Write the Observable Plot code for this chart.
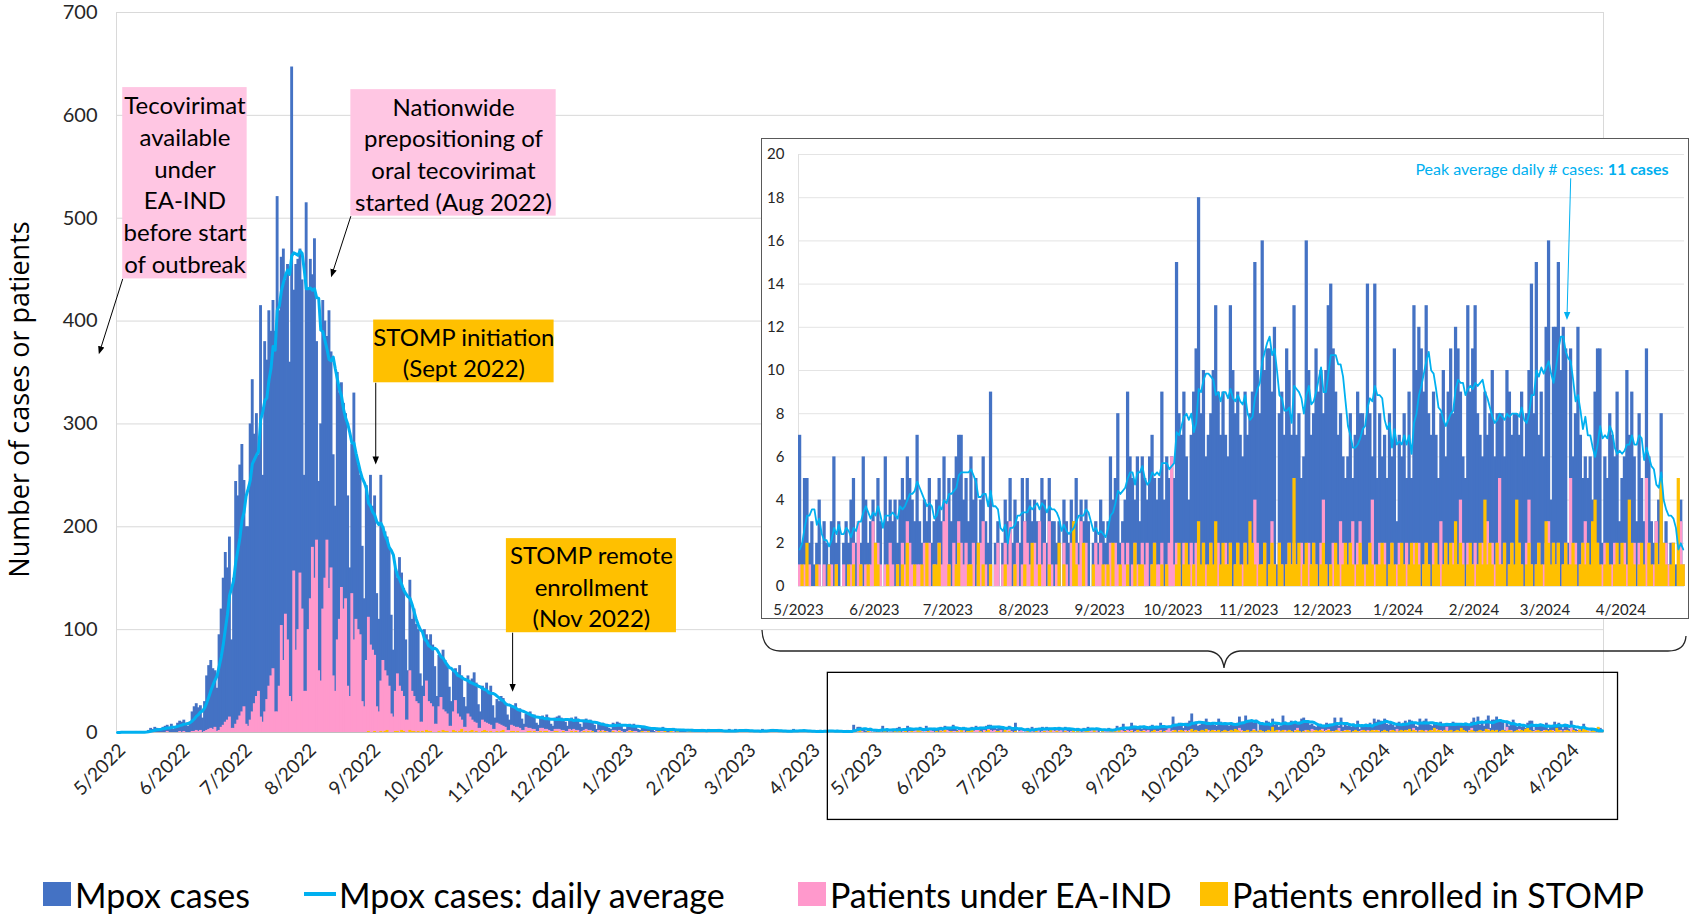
<!DOCTYPE html>
<html><head><meta charset="utf-8">
<script src="https://cdn.jsdelivr.net/npm/d3@7"></script>
<script src="https://cdn.jsdelivr.net/npm/@observablehq/plot@0.6"></script>
<style>
body{margin:0;background:#fff;font-family:Lato,sans-serif;}
#wrap{position:relative;width:1690px;height:914px;overflow:hidden;background:#fff;}
#main{position:absolute;left:0;top:0;}
#brace{position:absolute;left:0;top:0;pointer-events:none;}
#inset{position:absolute;left:761px;top:138px;width:926px;height:479px;border:1px solid #595959;background:#fff;}
#legend{position:absolute;left:0;top:850px;width:1690px;height:64px;}
.li{position:absolute;top:20px;height:48px;display:flex;align-items:center;font-size:34px;color:#000;white-space:nowrap;font-family:Lato,sans-serif;}
.sw{display:inline-block;width:28px;height:24px;margin-right:4px;}
.ln{display:inline-block;width:32px;height:4px;margin-right:3px;}
#err{position:absolute;left:10px;top:10px;color:red;font-size:20px;}
</style></head>
<body>
<div id="wrap">
  <div id="main"></div>
  <svg id="brace" width="1690" height="850"></svg>
  <div id="inset"></div>
  <div id="legend"></div>
  <div id="err"></div>
</div>
<script>
// ---------------- DATA ----------------
// Daily values, 2022-05-11 .. 2023-04-30 (main outbreak period)
const cases2022 = [
0,0,1,0,0,0,0, 0,0,1,0,1,0,0, 1,2,4,3,5,4,2, 2,5,6,7,5,8,3, 4,9,11,10,12,9,6,
10,20,25,28,24,26,14, 30,55,65,70,62,60,43, 95,120,150,175,160,190,90,
150,244,230,260,280,245,200, 200,300,343,290,310,270,415, 250,380,362,410,390,420,390,
521,410,462,470,440,455,360, 647,430,455,460,470,440,250, 515,430,460,445,480,380,244,
300,420,400,385,410,370,270, 220,350,330,340,320,310,230, 160,280,330,270,260,250,181,
130,240,230,250,220,230,135, 110,250,200,195,190,180,114, 80,160,150,170,155,140,90,
60,148,110,120,105,100,57, 45,100,95,90,95,85,64, 35,75,72,80,70,65,44,
30,60,62,58,65,55,34, 25,55,50,52,58,48,27, 20,45,42,48,40,45,26,
14,32,30,35,33,28,17, 12,25,24,28,22,23,13, 8,18,17,20,16,17,9,
7,15,16,14,17,14,8, 6,14,15,16,14,13,10, 6,13,14,12,15,13,8,
5,12,13,11,12,10,7, 3,8,7,9,8,7,4, 3,9,8,10,9,7,3,
3,7,8,7,8,6,3, 2,5,6,4,5,4,2, 1,4,4,3,5,3,1,
1,3,4,2,3,3,1, 1,2,3,2,3,2,1, 0,2,3,2,2,3,1,
1,2,2,3,2,1,0, 0,3,2,2,3,2,1, 1,2,3,2,1,2,0,
0,2,2,3,2,2,1, 1,3,2,2,1,2,0, 0,2,1,2,3,2,1,
1,2,2,1,2,1,0, 0,1,2,2,1,2,1, 1,2,1,1,2,1,0,
0,1,2,1,1];
const ea2022 = [
0,0,0,0,0,0,0, 0,0,0,0,0,0,0, 0,0,0,0,0,0,0, 0,0,0,1,0,0,0, 0,0,1,0,1,0,0,
0,1,1,2,1,2,0, 1,2,3,4,3,5,1, 2,5,7,10,12,15,4,
4,8,12,16,20,25,8, 6,12,20,28,35,40,15, 10,20,32,45,55,62,20,
20,45,104,70,115,90,35, 30,157,80,100,155,120,40, 40,100,130,180,150,187,60,
50,120,150,187,140,160,55, 40,90,110,141,120,130,45, 35,135,90,110,100,95,30,
25,70,112,85,80,75,25, 20,50,70,60,55,45,18, 15,40,57,45,40,35,12,
12,60,40,35,30,28,10, 10,35,50,30,28,25,8, 8,25,34,22,20,18,6,
6,20,31,18,15,12,5, 5,18,15,12,10,9,4, 4,12,10,9,8,7,3,
3,9,8,7,6,5,2, 2,7,6,5,5,4,2, 2,5,4,4,3,3,1,
1,4,4,3,3,2,1, 1,3,3,3,2,2,1, 1,3,2,3,2,2,0,
1,2,3,2,2,1,0, 0,2,1,2,1,1,0, 0,2,2,1,2,1,0,
0,1,2,1,1,1,0, 0,1,1,1,1,0,0, 0,1,0,1,1,0,0,
0,1,1,0,1,0,0, 0,0,1,1,0,1,0, 0,1,0,1,0,1,0,
0,1,1,0,1,0,0, 0,0,1,1,0,1,0, 0,1,0,1,0,0,0,
0,1,1,0,1,0,0, 0,0,1,0,1,1,0, 0,1,0,1,0,0,0,
0,0,1,0,1,0,0, 0,1,0,1,0,1,0, 0,0,1,0,0,1,0,
0,1,0,0,1];
const stomp2022 = [
0,0,0,0,0,0,0, 0,0,0,0,0,0,0, 0,0,0,0,0,0,0, 0,0,0,0,0,0,0, 0,0,0,0,0,0,0,
0,0,0,0,0,0,0, 0,0,0,0,0,0,0, 0,0,0,0,0,0,0,
0,0,0,0,0,0,0, 0,0,0,0,0,0,0, 0,0,0,0,0,0,0,
0,0,0,0,0,0,0, 0,0,0,0,0,0,0, 0,0,0,0,0,0,0,
0,0,0,0,0,0,0, 0,0,0,0,0,0,0, 0,0,0,0,0,0,0,
0,0,1,0,0,1,0, 0,1,0,1,2,0,0, 0,1,1,0,2,1,0,
0,2,1,1,0,1,0, 1,0,2,1,1,0,0, 0,1,0,2,1,1,0,
0,2,1,0,1,3,0, 1,0,1,2,0,1,0, 0,1,2,1,0,1,0,
0,1,0,1,2,0,0, 0,1,1,0,1,0,0, 0,0,1,1,0,1,0,
0,1,0,1,1,0,0, 0,1,1,0,0,1,0, 0,0,1,0,1,0,0,
0,1,0,1,0,1,0, 0,0,1,0,1,0,0, 0,1,0,0,1,0,0,
0,0,1,1,0,0,0, 0,1,0,0,1,0,0, 0,0,1,0,0,1,0,
0,1,0,0,1,0,0, 0,0,0,1,0,0,0, 0,1,0,0,1,0,0,
0,0,1,0,0,0,0, 0,1,0,0,1,0,0, 0,0,0,1,0,0,0,
0,1,0,0,0,1,0, 0,0,1,0,0,0,0, 0,0,0,1,0,0,0,
0,1,0,0,1,0,0, 0,0,0,1,0,0,0, 0,1,0,0,0,0,0,
0,0,1,0,0];
// Daily values, 2023-05-01 .. 2024-04-26 (period shown in the inset)
const casesInset = [
7,2,5,5,2,3,1, 2,4,0,3,2,1,3, 6,2,3,0,2,3,2, 4,5,2,3,2,6,4, 2,3,4,2,5,3,0,
6,3,4,3,4,2,4, 5,4,6,5,4,3,7, 3,2,4,3,5,2,3, 4,5,3,6,4,5,3, 5,6,7,7,4,5,3,
6,4,5,2,4,6,3, 2,9,0,2,3,0,2, 4,3,5,2,4,3,2, 5,3,5,4,3,4,3, 3,5,4,2,5,3,3,
2,3,0,4,3,2,4, 3,5,2,4,3,4,3, 0,2,3,2,4,3,2, 3,6,4,5,8,2,3, 4,9,6,5,4,6,3,
6,5,4,6,7,5,4, 5,9,4,6,5,6,5, 15,8,7,9,6,4,7, 9,11,18,8,10,6,7, 8,10,13,9,7,9,7,
6,13,10,8,9,7,6, 9,7,8,9,15,10,8, 16,10,11,11,9,12,1, 8,9,7,11,10,7,13, 7,8,5,6,16,10,7,
8,11,9,10,8,10,13, 14,11,9,7,8,6,5, 6,8,5,7,9,8,8, 7,14,8,6,14,5,8, 6,7,5,8,6,11,3,
7,6,8,5,9,5,13, 10,12,11,9,13,8,7, 9,7,5,8,10,6,9, 11,8,12,11,9,6,5, 13,9,11,13,8,7,6,
9,7,8,10,6,8,8, 8,6,10,9,7,8,8, 7,9,6,8,10,14,8, 15,7,9,6,12,16,4, 12,12,15,10,12,11,2,
11,6,8,12,7,5,6, 5,6,4,9,11,11,2, 6,5,8,7,6,9,3, 5,6,10,7,9,6,3, 8,5,3,11,6,3,2,
3,4,8,2,3,1,2, 2,1,1,4,1];
const eaInset = [
1,0,1,0,1,0,0, 0,1,0,1,0,0,1, 0,1,0,0,1,0,0, 1,2,0,3,1,0,1, 0,1,3,0,2,1,0,
1,0,2,1,0,1,0, 2,1,3,2,1,0,1, 1,0,2,1,2,0,1, 0,2,1,3,4,1,0, 2,1,3,2,1,2,0,
1,2,0,1,2,3,1, 0,1,0,1,2,0,1, 2,1,3,0,1,2,0, 1,3,2,1,0,2,1, 3,1,2,0,3,1,0,
1,0,0,2,1,0,2, 0,2,1,3,1,2,0, 0,0,2,1,2,0,1, 0,2,1,2,1,0,2, 1,2,0,1,2,1,0,
2,1,2,0,1,2,1, 1,2,0,1,2,6,1, 2,1,0,2,1,0,2, 1,2,1,0,2,1,0, 2,0,1,2,0,1,2,
1,2,0,1,2,0,1, 2,0,1,1,4,2,0, 1,2,0,1,3,1,0, 2,1,0,1,2,1,2, 1,0,2,1,0,2,1,
2,1,0,2,4,1,0, 1,2,1,0,3,2,1, 0,2,3,1,2,3,0, 1,0,2,4,1,0,2, 1,2,0,1,2,0,1,
2,0,1,2,0,1,2, 1,2,0,1,2,1,0, 2,1,0,3,1,2,0, 1,2,0,1,4,2,0, 2,0,1,2,1,0,2,
1,3,0,2,1,2,5, 1,2,0,1,2,0,1, 2,1,0,2,4,1,0, 1,2,0,1,2,3,0, 2,1,2,0,1,2,0,
5,1,2,0,1,2,3, 1,0,2,1,2,0,1, 2,1,0,1,2,0,1, 0,2,1,0,1,2,0, 2,1,0,5,2,0,1,
3,1,2,0,2,1,0, 2,0,0,3,1];
const stompInset = [
0,1,0,2,0,0,0, 1,0,0,0,0,1,0, 0,1,0,0,0,0,1, 0,1,0,0,1,0,0, 1,0,0,2,1,0,0,
0,1,0,0,0,1,0, 1,0,2,0,0,1,0, 0,1,0,2,0,0,1, 1,2,0,0,0,1,0, 0,1,2,0,0,0,1,
1,0,0,2,0,1,0, 0,1,0,0,0,0,0, 1,0,0,0,1,0,0, 0,1,0,0,2,0,0, 1,0,0,0,1,0,0,
0,2,0,1,0,0,0, 3,1,0,0,2,0,0, 0,1,0,0,0,1,0, 1,0,2,0,0,1,0, 0,1,0,0,2,0,1,
1,0,0,0,1,2,0, 0,1,0,1,0,0,0, 1,2,0,1,2,1,0, 1,0,3,1,2,0,1, 2,1,3,0,1,2,1,
1,2,0,1,2,1,0, 2,1,3,2,1,0,1, 1,2,0,1,2,1,0, 2,1,0,1,2,1,5, 1,2,0,1,2,0,1,
2,1,0,1,2,1,0, 1,0,2,1,0,1,2, 1,2,1,0,1,2,1, 0,1,2,1,0,1,1, 2,1,0,1,2,1,0,
1,2,1,0,1,2,1, 2,1,0,1,2,1,0, 1,2,1,0,1,2,1, 2,1,3,1,2,1,0, 1,2,1,0,1,2,1,
4,1,2,1,0,2,1, 1,2,0,1,2,1,4, 2,1,0,1,2,1,0, 1,2,1,0,3,2,1, 2,1,2,0,1,2,1,
1,2,1,0,1,2,1, 2,1,3,4,2,1,0, 1,2,1,0,1,2,1, 2,1,0,4,2,1,0, 1,2,1,0,2,1,0,
2,1,5,2,1,0,1, 2,0,5,1,1];

const mainTickLabels = ["5/2022","6/2022","7/2022","8/2022","9/2022","10/2022","11/2022","12/2022",
 "1/2023","2/2023","3/2023","4/2023","5/2023","6/2023","7/2023","8/2023","9/2023","10/2023",
 "11/2023","12/2023","1/2024","2/2024","3/2024","4/2024"];
const insetTickLabels = ["5/2023","6/2023","7/2023","8/2023","9/2023","10/2023","11/2023",
 "12/2023","1/2024","2/2024","3/2024","4/2024"];
const yTicksMain = [0,100,200,300,400,500,600,700];
const yTicksInset = [0,2,4,6,8,10,12,14,16,18,20];

const annotBoxes = [
 {label:"Tecovirimat\navailable\nunder\nEA-IND\nbefore start\nof outbreak", x1:"2022-05-14", x2:"2022-07-13", y1:441, y2:627, kind:"ea"},
 {label:"Nationwide\nprepositioning of\noral tecovirimat\nstarted (Aug 2022)", x1:"2022-09-01", x2:"2022-12-09", y1:502, y2:625, kind:"ea"},
 {label:"STOMP initiation\n(Sept 2022)", x1:"2022-09-12", x2:"2022-12-08", y1:340, y2:401, kind:"stomp"},
 {label:"STOMP remote\nenrollment\n(Nov 2022)", x1:"2022-11-15", x2:"2023-02-05", y1:97, y2:188.5, kind:"stomp"}
];
const annotArrows = [
 {x1:"2022-05-14", y1:441, x2:"2022-05-03", y2:371},
 {x1:"2022-09-01", y1:502, x2:"2022-08-23", y2:446},
 {x1:"2022-09-13", y1:340, x2:"2022-09-13", y2:264},
 {x1:"2022-11-18", y1:97, x2:"2022-11-18", y2:43}
];
const highlightBox = [{x1:"2023-04-19", x2:"2024-05-04", y1:-85, y2:58}];
const peakNote = [{x:"2024-04-20T12:00Z", y:19.3, normal:"Peak average daily # cases: ", bold:"11 cases"}];
const peakArrow = [{x1:"2024-03-11T12:00Z", y1:18.9, x2:"2024-03-10T00:00Z", y2:12.5}];

// ---------------- STYLE ----------------
const C_BLUE = "#4472C4", C_PINK = "#FF99CC", C_GOLD = "#FFC000", C_LINE = "#00B0F0", C_PINKBOX = "#FFC6E3";
const TXT = "#262626";

// ---------------- BUILD ----------------
const err = [];
if (cases2022.length !== 355 || ea2022.length !== 355 || stomp2022.length !== 355) err.push("2022 lengths " + [cases2022.length, ea2022.length, stomp2022.length]);
if (casesInset.length !== 362 || eaInset.length !== 362 || stompInset.length !== 362) err.push("inset lengths " + [casesInset.length, eaInset.length, stompInset.length]);
document.getElementById("err").textContent = err.join(" | ");

const S = new Date(Date.UTC(2022, 4, 11));
const insetStart = new Date(Date.UTC(2023, 4, 1));
const endDate = new Date(Date.UTC(2024, 3, 27));
const cases = cases2022.concat(casesInset);
const ea = ea2022.concat(eaInset);
const stomp = stomp2022.concat(stompInset);
const data = cases.map((c, i) => ({
  date: d3.utcDay.offset(S, i), cases: c, ea: ea[i], stomp: stomp[i],
  avg: d3.mean(cases.slice(Math.max(0, i - 6), i + 1))
}));
const nextDay = d => d3.utcDay.offset(d.date, 1);
const midDay = d => new Date(+d.date + 43200000);
const pd = s => new Date(s);

const mainTicks = mainTickLabels.map(l => { const [m, y] = l.split("/").map(Number); return {label: l, date: new Date(Date.UTC(y, m - 1, 11))}; });
const insetTicks = insetTickLabels.map(l => { const [m, y] = l.split("/").map(Number); return {label: l, date: new Date(Date.UTC(y, m - 1, 1))}; });

const barOpts = {insetRight: -0.8};
const main = Plot.plot({
  width: 1690, height: 850, marginLeft: 116, marginRight: 87, marginTop: 12, marginBottom: 118,
  style: {fontFamily: "Lato, sans-serif", background: "transparent", overflow: "visible"},
  x: {type: "utc", domain: [S, endDate], axis: null},
  y: {domain: [0, 700], axis: null},
  marks: [
    Plot.gridY(yTicksMain, {stroke: "#d9d9d9", strokeOpacity: 1}),
    Plot.frame({stroke: "#d9d9d9"}),
    Plot.rect(data, {x1: "date", x2: nextDay, y1: 0, y2: "cases", fill: C_BLUE, ...barOpts}),
    Plot.rect(data, {x1: "date", x2: nextDay, y1: 0, y2: "ea", fill: C_PINK, ...barOpts}),
    Plot.rect(data, {x1: "date", x2: nextDay, y1: 0, y2: "stomp", fill: C_GOLD, ...barOpts}),
    Plot.ruleY([0], {stroke: "#bfbfbf"}),
    Plot.line(data, {x: midDay, y: "avg", stroke: C_LINE, strokeWidth: 3}),
    Plot.rect(annotBoxes, {x1: d => pd(d.x1), x2: d => pd(d.x2), y1: "y1", y2: "y2", fill: d => d.kind === "ea" ? C_PINKBOX : C_GOLD}),
    Plot.text(annotBoxes, {x: d => new Date((+pd(d.x1) + +pd(d.x2)) / 2), y: d => (d.y1 + d.y2) / 2, text: "label",
      fontSize: 24, lineHeight: 1.32, fill: "#000"}),
    Plot.link(annotArrows, {x1: d => pd(d.x1), y1: "y1", x2: d => pd(d.x2), y2: "y2", stroke: "#000", strokeWidth: 1, markerEnd: "arrow"}),
    Plot.rect(highlightBox, {x1: d => pd(d.x1), x2: d => pd(d.x2), y1: "y1", y2: "y2", fill: "none", stroke: "#000", strokeWidth: 1.3}),
    Plot.axisY(yTicksMain, {tickSize: 0, tickPadding: 19, fontSize: 20, fill: TXT}),
    Plot.text(mainTicks, {x: "date", text: "label", frameAnchor: "bottom", rotate: -45, textAnchor: "end", dx: 10, dy: 19, fontSize: 19, fill: TXT}),
    Plot.text(["Number of cases or patients"], {frameAnchor: "left", rotate: -90, textAnchor: "middle", dx: -96, dy: 27,
      fontSize: 27, fontFamily: "Open Sans", fill: "#000"})
  ]
});
document.getElementById("main").appendChild(main);

const insetData = data.filter(d => d.date >= insetStart);
const inset = Plot.plot({
  width: 926, height: 479, marginLeft: 36, marginRight: 4, marginTop: 15, marginBottom: 32,
  style: {fontFamily: "Lato, sans-serif", background: "#fff", overflow: "visible"},
  x: {type: "utc", domain: [insetStart, endDate], axis: null},
  y: {domain: [0, 20], axis: null},
  marks: [
    Plot.gridY(yTicksInset, {stroke: "#e4e4e4", strokeOpacity: 1}),
    Plot.ruleX([insetStart], {stroke: "#e0e0e0"}),
    Plot.rect(insetData, {x1: "date", x2: nextDay, y1: 0, y2: "cases", fill: C_BLUE, ...barOpts}),
    Plot.rect(insetData, {x1: "date", x2: nextDay, y1: 0, y2: "ea", fill: C_PINK, ...barOpts}),
    Plot.rect(insetData, {x1: "date", x2: nextDay, y1: 0, y2: "stomp", fill: C_GOLD, ...barOpts}),
    Plot.line(insetData, {x: midDay, y: "avg", stroke: C_LINE, strokeWidth: 1.8}),
    Plot.axisY(yTicksInset, {tickSize: 0, tickPadding: 14, fontSize: 15, fill: TXT}),
    Plot.text(insetTicks, {x: "date", text: "label", frameAnchor: "bottom", dy: 28, fontSize: 15, fill: TXT}),
    Plot.text(peakNote, {x: d => pd(d.x), y: "y", text: d => d.normal + d.bold, textAnchor: "end", fontSize: 16, fill: C_LINE}),
    Plot.link(peakArrow, {x1: d => pd(d.x1), y1: "y1", x2: d => pd(d.x2), y2: "y2", stroke: C_LINE, strokeWidth: 1, markerEnd: "arrow"})
  ]
});
document.getElementById("inset").appendChild(inset);

// filled triangular arrowheads
for (const svg of [main, inset]) {
  svg.querySelectorAll("marker").forEach(m => {
    const c = m.getAttribute("stroke") || "#000";
    m.setAttribute("fill", c); m.setAttribute("stroke", "none");
    m.setAttribute("markerWidth", 9); m.setAttribute("markerHeight", 9);
    const p = m.querySelector("path"); if (p) p.setAttribute("d", "M-5,-3.6L4,0L-5,3.6Z");
  });
}
// bold part of the peak note
inset.querySelectorAll("text").forEach(t => {
  const n = peakNote[0];
  if (t.textContent === n.normal + n.bold) {
    t.textContent = "";
    const a = document.createElementNS("http://www.w3.org/2000/svg", "tspan"); a.textContent = n.normal;
    const b = document.createElementNS("http://www.w3.org/2000/svg", "tspan"); b.textContent = n.bold; b.setAttribute("font-weight", "bold");
    t.appendChild(a); t.appendChild(b);
  }
});

// bracket linking the inset to the highlighted period
d3.select("#brace").append("path")
  .attr("d", "M762,630 Q763,651 780,651 L1208,651 Q1222,652 1224,668 Q1226,652 1240,651 L1668,651 Q1685,651 1686,636")
  .attr("fill", "none").attr("stroke", "#262626").attr("stroke-width", 1.3);

// legend
const legendItems = [
  {label: "Mpox cases", color: C_BLUE, type: "sw", left: 43},
  {label: "Mpox cases: daily average", color: C_LINE, type: "ln", left: 304},
  {label: "Patients under EA-IND", color: C_PINK, type: "sw", left: 798},
  {label: "Patients enrolled in STOMP", color: C_GOLD, type: "sw", left: 1200}
];
const lg = d3.select("#legend");
legendItems.forEach(it => {
  const div = lg.append("div").attr("class", "li").style("left", it.left + "px");
  div.append("span").attr("class", it.type).style("background", it.color);
  div.append("span").text(it.label);
});
</script>
</body></html>
